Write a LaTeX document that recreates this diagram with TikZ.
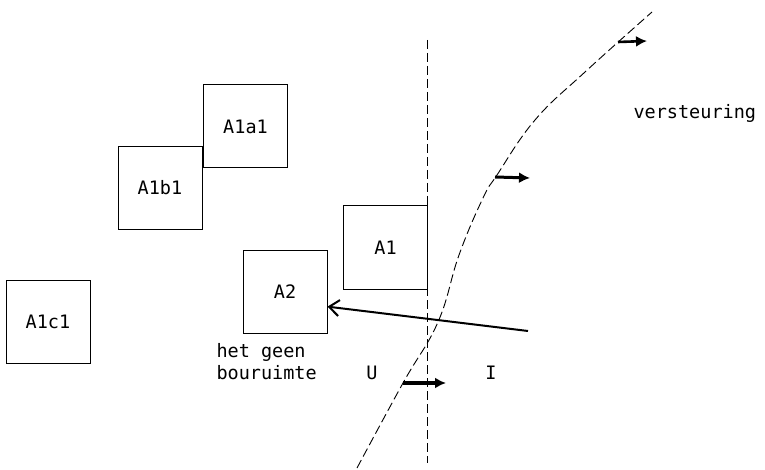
\documentclass[tikz,border=0pt]{standalone}
\usepackage{fontspec}
\setmonofont{DejaVu Sans Mono}
\usetikzlibrary{arrows.meta}
\tikzset{
  plot/.style={x=1pt, y=-1pt, every node/.style={font=\ttfamily\fontsize{18.5}{22}\selectfont}},
  vak/.style={draw, line width=1pt, minimum width=84pt, minimum height=83pt, inner sep=0pt},
  grens/.style={dash pattern=on 9pt off 4pt, line width=0.9pt},
  duw/.style={line width=3pt, -{Latex[length=11pt, width=11pt]}}
}
\begin{document}
\begin{tikzpicture}[plot]
  \useasboundingbox (0,0) rectangle (765,470);

  % Boxes
  \node[vak] (A1a1) at (245.5,126.5) {A1a1};
  \node[vak] (A1b1) at (160,188) {A1b1};
  \node[vak] (A1c1) at (48,321.5) {A1c1};
  \node[vak] (A1) at (385.5,247.5) {A1};
  \node[vak] (A2) at (285,292) {A2};

  % Labels
  \node[anchor=west, align=left] (geen) at (213,362) {het geen\\bouruimte};
  \node (U) at (372,373) {U};
  \node (I) at (491,373) {I};
  \node[anchor=west] (vers) at (630,113) {versteuring};

  % Vertical boundary
  \coordinate (gtop) at (427,40);
  \coordinate (gbot) at (427,463);
  \draw[grens] (gtop) -- (gbot);

  % Disturbance front
  \draw[grens] plot[smooth, tension=0.7] coordinates {(357,468) (403,383) (438,322) (459,255) (483,198) (497,175) (535,120) (585,72) (652,12)};

  % Push arrows
  \coordinate (p1) at (403,383);
  \coordinate (q1) at (446,383);
  \coordinate (p2) at (495,177);
  \coordinate (q2) at (530,178);
  \coordinate (p3) at (618,42);
  \coordinate (q3) at (647,41);
  \draw[duw, line width=3.6pt] (p1) -- (q1);
  \draw[duw] (p2) -- (q2);
  \draw[duw, line width=2.6pt] (p3) -- (q3);

  % Long arrow into A2
  \coordinate (lstart) at (528,331);
  \draw[line width=2pt, -{Straight Barb[length=10pt, width=16pt]}] (lstart) -- (A2.-19);
\end{tikzpicture}
\end{document}
